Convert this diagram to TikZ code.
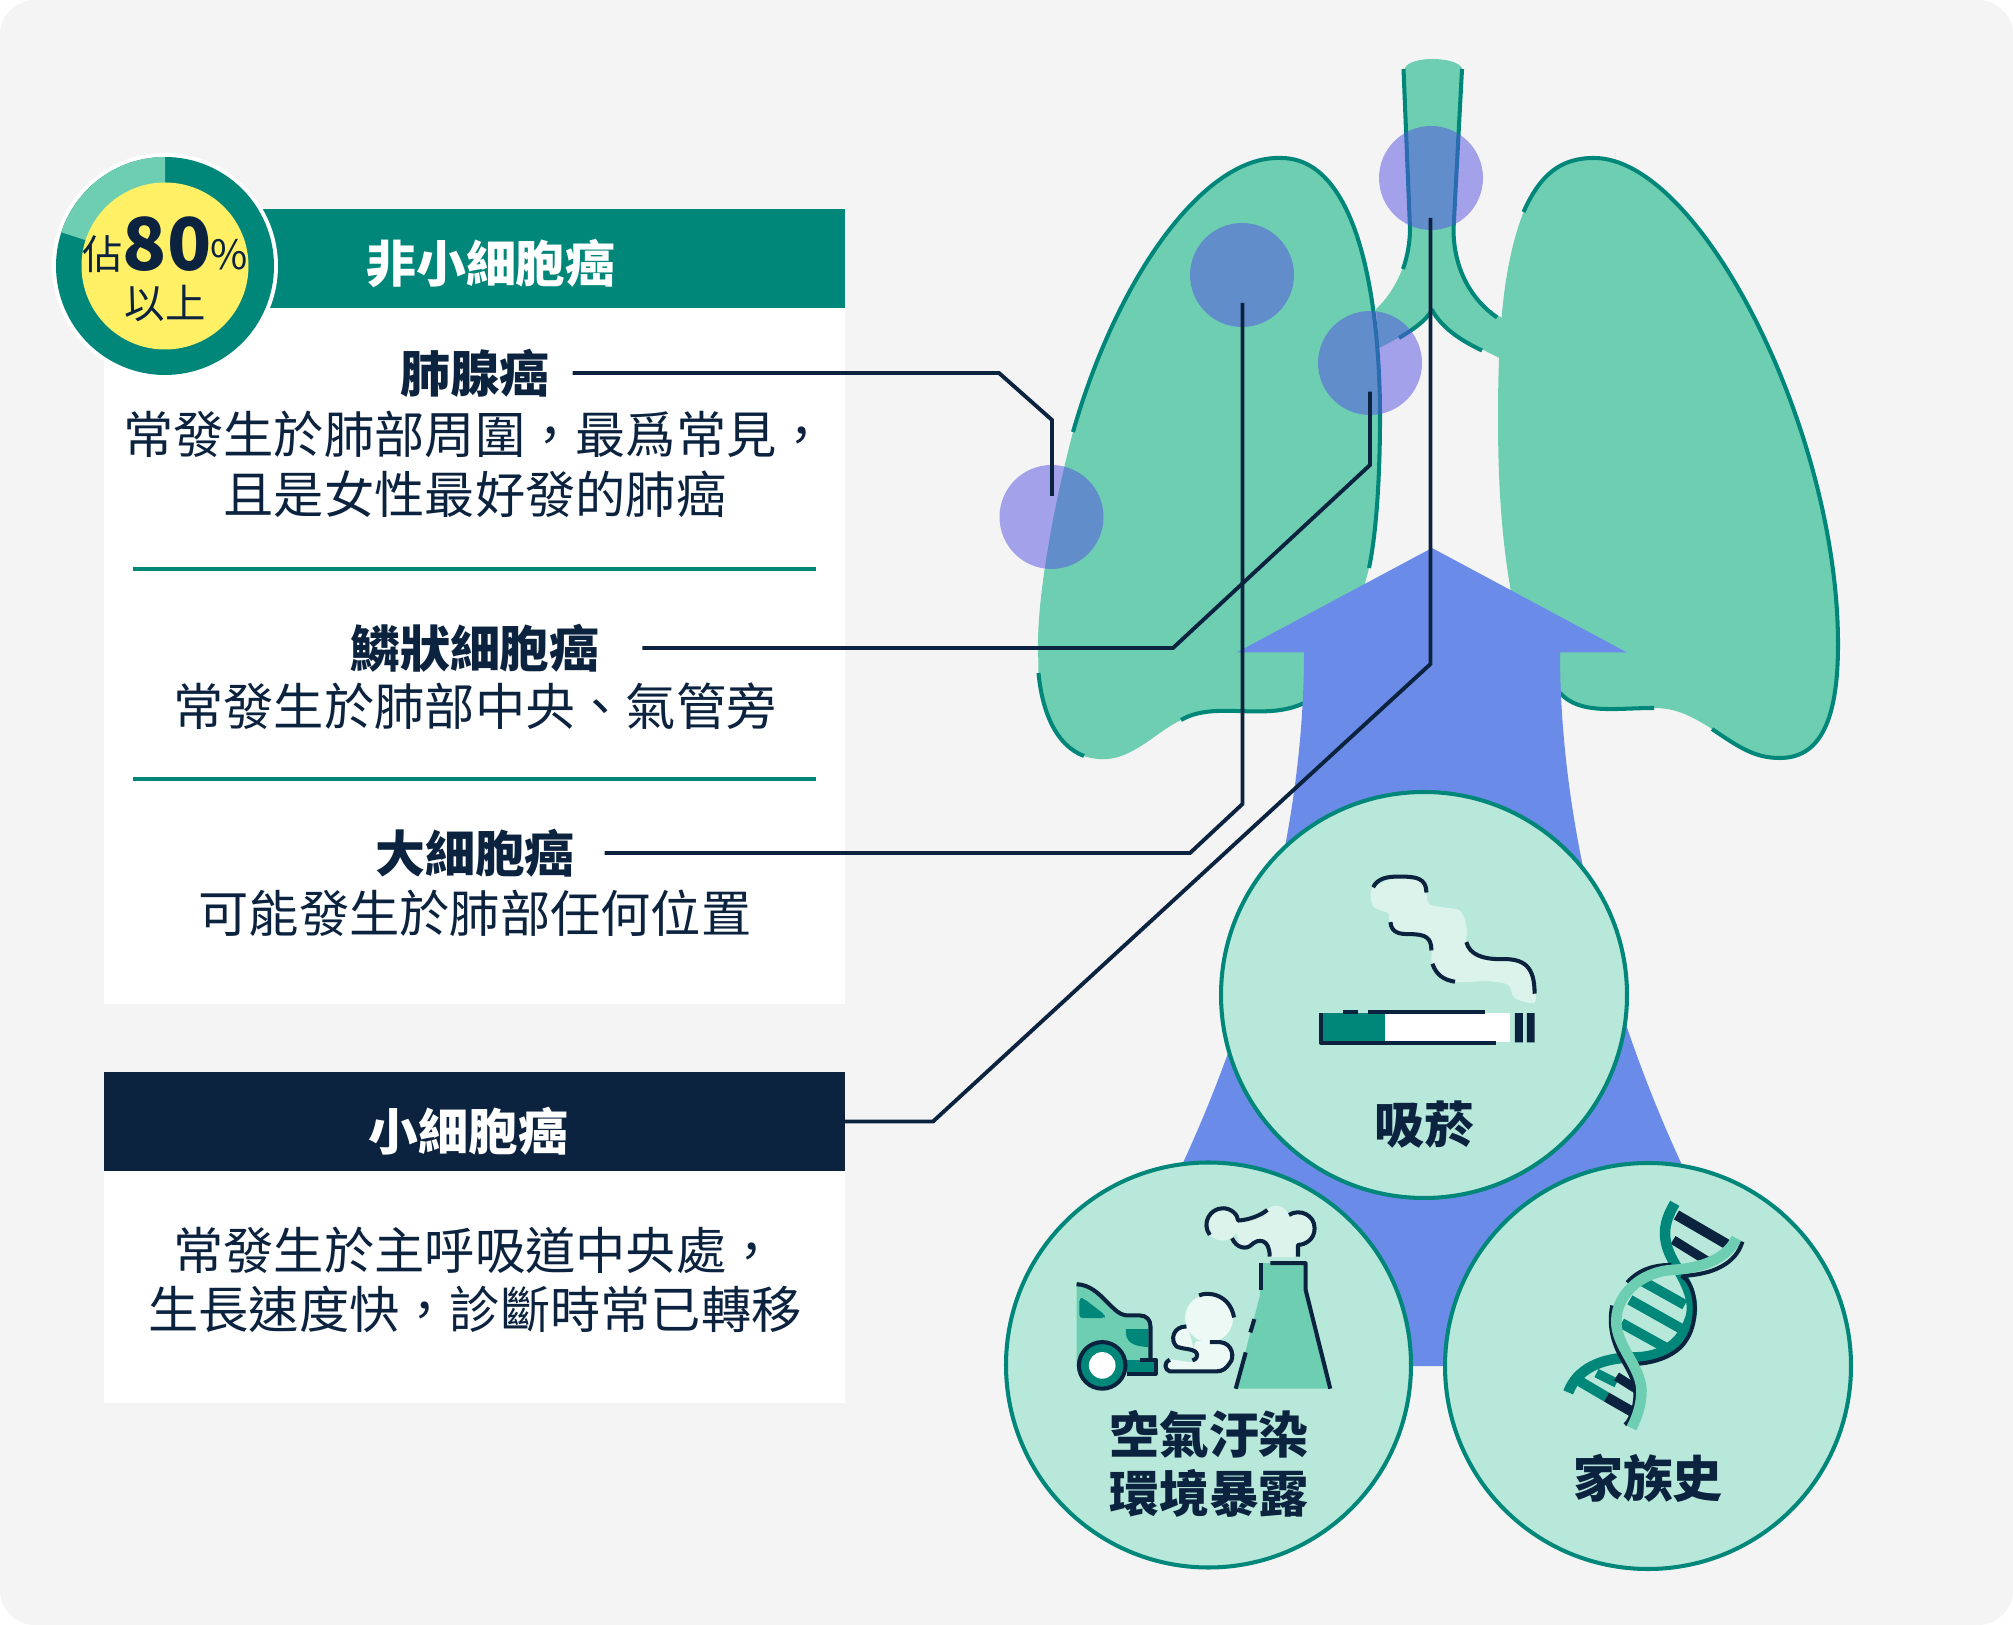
\documentclass[tikz,border=0pt]{standalone}
\usepackage{fontspec}
\usepackage{xcolor}
\usepackage{tikz}
\newfontfamily\tcfont{Noto Sans CJK TC}
\definecolor{bg}{HTML}{F4F4F4}
\definecolor{navy}{HTML}{0C2340}
\definecolor{deep}{HTML}{00877A}
\definecolor{mint}{HTML}{6ECEB2}
\definecolor{pale}{HTML}{B8E8DA}
\definecolor{puff}{HTML}{DCF3EC}
\definecolor{cloud}{HTML}{EDF9F5}
\definecolor{arrowblue}{HTML}{6A8CE8}
\definecolor{spot}{HTML}{5650E4}
\definecolor{sun}{HTML}{FFF066}
\tikzset{
  edge/.style={draw=deep, line width=1.15pt, line cap=butt, line join=round},
  leader/.style={draw=navy, line width=1.1pt, line join=miter},
  ink/.style={draw=navy, line width=1.15pt, line join=round},
  rulebar/.style={draw=deep, line width=1pt},
  riskcirc/.style={draw=deep, fill=pale, line width=1.15pt},
  tumour/.style={fill=spot, fill opacity=0.5},
  bodytxt/.style={text=navy, align=center, inner sep=0pt, font=\tcfont\fontsize{14.3}{16.9}\selectfont},
  headtxt/.style={text=navy, inner sep=0pt, align=center, font=\tcfont\bfseries\fontsize{14.2}{14.2}\selectfont},
  whitetxt/.style={headtxt, text=white},
  bar/.style={minimum height=9.9mm, inner sep=0pt, outer sep=0pt},
  rung/.style={line cap=butt},
}
\begin{document}
\begin{tikzpicture}[x=0.1mm,y=-0.1mm]
  \useasboundingbox (0,0) rectangle (2013,1625);
  \fill[white] (0,0) rectangle (2013,1625);
  \fill[bg,rounded corners=3.5mm] (0,0) rectangle (2013,1625);

  % lungs and windpipe
  \fill[mint] (1073,432) .. controls (1055,500) and (1038,590) .. (1038,644) -- (1038.5,673)
    .. controls (1042,710) and (1055,745) .. (1084,756)
    .. controls (1125,770) and (1150,735) .. (1181,720)
    .. controls (1215,700) and (1265,722) .. (1304,703) -- (1345,660) -- (1369,568)
    .. controls (1377,530) and (1380,470) .. (1380,417)
    .. controls (1380,300) and (1358,158) .. (1281,158)
    .. controls (1205,155) and (1118,275) .. (1073,432) -- cycle;
  \fill[mint] (1523.5,212) .. controls (1540,175) and (1560,158) .. (1594,158)
    .. controls (1700,158) and (1838,430) .. (1838,644)
    .. controls (1838,710) and (1825,758) .. (1780,758)
    .. controls (1755,758) and (1740,748) .. (1712,729)
    .. controls (1690,715) and (1675,708) .. (1654,708)
    .. controls (1615,708) and (1580,715) .. (1560,693) -- (1540,650) -- (1511,592)
    .. controls (1500,530) and (1498,470) .. (1498,417)
    .. controls (1498,320) and (1505,260) .. (1523.5,212) -- cycle;
  \fill[mint] (1405,68) .. controls (1410,56) and (1455,56) .. (1462,68)
    -- (1453.5,229) .. controls (1453.5,270) and (1472,300) .. (1502,318) -- (1499.5,358)
    .. controls (1470,343) and (1447,335) .. (1432,310)
    .. controls (1420,325) and (1400,338) .. (1379,348) -- (1376,309)
    .. controls (1395,292) and (1410,260) .. (1410,229) -- cycle;

  \draw[edge] (1073,432) .. controls (1118,275) and (1205,155) .. (1281,158)
    .. controls (1358,158) and (1380,300) .. (1380,417)
    .. controls (1380,470) and (1377,530) .. (1369,568);
  \draw[edge] (1038.5,673) .. controls (1042,710) and (1055,745) .. (1084,756);
  \draw[edge] (1181,720) .. controls (1215,700) and (1265,722) .. (1304,703);
  \draw[edge] (1523.5,212) .. controls (1540,175) and (1560,158) .. (1594,158)
    .. controls (1700,158) and (1838,430) .. (1838,644)
    .. controls (1838,710) and (1825,758) .. (1780,758)
    .. controls (1755,758) and (1740,748) .. (1712,729);
  \draw[edge] (1654,708) .. controls (1615,708) and (1580,715) .. (1560,693);
  \draw[edge] (1403.5,69) -- (1410,229) .. controls (1410,240) and (1408,255) .. (1403,269);
  \draw[edge] (1462,69) -- (1453.5,229) .. controls (1453.5,270) and (1472,300) .. (1497,317.5);
  \draw[edge] (1399,338) .. controls (1412,330) and (1425,322) .. (1432,310)
    .. controls (1442,328) and (1460,340) .. (1482,350.5);

  % sites in the lung
  \fill[tumour] (1051.5,517) circle (52);
  \fill[tumour] (1242,275) circle (52);
  \fill[tumour] (1370,363) circle (52);
  \fill[tumour] (1431,178) circle (52);

  % the big arrow
  \fill[arrowblue] (1432,548) -- (1627,652.5) -- (1560,652.5)
    .. controls (1560,850) and (1624,1040) .. (1682,1165) -- (1648,1366) -- (1208,1366) -- (1182,1165)
    .. controls (1240,1040) and (1304,850) .. (1304,652.5) -- (1236.5,652.5) -- cycle;

  % panels
  \fill[white] (104,280) rectangle (845,1004);
  \fill[white] (104,1150) rectangle (845,1403);
  \node[bar,fill=deep,minimum width=61.5mm] (nonsmallbar) at (537.5,259) {};
  \node[bar,fill=navy,minimum width=74.1mm] (smallbar) at (474.5,1121.5) {};
  \node[whitetxt] (nonsmalltxt) at (491,264) {非小細胞癌};
  \node[whitetxt] (smalltxt) at (468.5,1131) {小細胞癌};

  % share ring
  \fill[white] (165,266) circle (113);
  \fill[deep] (165,266) circle (109);
  \fill[mint] (165,266) -- ++(-90:109) arc (-90:-162:109) -- cycle;
  \fill[sun] (165,266) circle (83.5);
  \node[text=navy,inner sep=0pt,font=\tcfont\fontsize{11.5}{11.5}\selectfont] (sharea) at (103,254) {佔};
  \node[text=navy,inner sep=0pt,font=\tcfont\bfseries\fontsize{20.7}{20.7}\selectfont] (shareb) at (167,244) {80};
  \node[text=navy,inner sep=0pt,font=\tcfont\fontsize{11.5}{11.5}\selectfont] (sharec) at (229,255) {\%};
  \node[text=navy,inner sep=0pt,font=\tcfont\fontsize{11.5}{11.5}\selectfont] (shared) at (165,304) {以上};

  % texts of the panels
  \node[headtxt] (adeno) at (475,373) {肺腺癌};
  \node[bodytxt] (adenotxt) at (475,464.5) {常發生於肺部周圍，最爲常見，\\且是女性最好發的肺癌};
  \draw[rulebar] (133,569) -- (816,569);
  \node[headtxt] (squam) at (475,648) {鱗狀細胞癌};
  \node[bodytxt] (squamtxt) at (475,706) {常發生於肺部中央、氣管旁};
  \draw[rulebar] (133,779) -- (816,779);
  \node[headtxt] (large) at (475,853) {大細胞癌};
  \node[bodytxt] (largetxt) at (475,913) {可能發生於肺部任何位置};
  \node[bodytxt] (smalldesc) at (475,1280) {常發生於主呼吸道中央處，\\生長速度快，診斷時常已轉移};

  % leaders
  \coordinate (adenoend) at (1052,496);
  \coordinate (squamend) at (1370,391.6);
  \coordinate (largeend) at (1242.5,303);
  \coordinate (smallend) at (1430.5,218);
  \draw[leader] ([xshift=2.2mm]adeno.east) -- (999,373) -- (1052,420) -- (adenoend);
  \draw[leader] ([xshift=4.2mm]squam.east) -- (1173,648) -- (1370,465) -- (squamend);
  \draw[leader] ([xshift=2.9mm]large.east) -- (1190,853) -- (1242.5,804) -- (largeend);
  \draw[leader] (smallbar.east) -- (933,1121.5) -- (1430.5,664) -- (smallend);

  % risk circles
  \draw[riskcirc] (1424,995) circle (203);
  \draw[riskcirc] (1208.5,1365) circle (202.5);
  \draw[riskcirc] (1648,1366) circle (203);
  \node[headtxt] (smoke) at (1424,1125) {吸菸};
  \node[headtxt] (air) at (1209,1464) {空氣汙染\\[2.6pt]環境暴露};
  \node[headtxt] (family) at (1648,1478) {家族史};

  % cigarette
  \begin{scope}[shift={(1200,780)},x=0.0333mm,y=-0.0333mm]
    \fill[puff] plot[smooth cycle,tension=0.45] coordinates {(518,325) (600,290) (675,300) (688,372)
      (780,392) (802,450) (800,490) (850,532) (960,540) (1005,600) (1005,668) (945,655) (925,615)
      (860,604) (765,606) (700,565) (695,510) (680,470) (600,462) (570,425) (565,400) (520,380)};
    \fill[deep] (365,700) rectangle (555,785);
    \fill[white] (555,700) rectangle (930,788);
    \draw[ink] (430,698) -- (475,698) (505,698) -- (855,698);
    \draw[ink] (888,789) -- (363,789) -- (363,700);
    \fill[navy] (946,700) rectangle (970,788) (982,700) rectangle (1005,788);
    \draw[ink] (520,322) .. controls (535,295) and (560,290) .. (600,290) .. controls (650,290) and (680,295) .. (680,338);
    \draw[ink] (572,427) .. controls (575,460) and (600,463) .. (630,463) .. controls (680,463) and (695,475) .. (695,512);
    \draw[ink] (698,552) .. controls (710,585) and (730,600) .. (766,606);
    \draw[ink] (800,487) .. controls (810,525) and (850,538) .. (900,538) .. controls (975,535) and (1005,560) .. (1005,642);
  \end{scope}

  % car and chimney
  \begin{scope}[shift={(1000,1150)},x=0.0333mm,y=-0.0333mm]
    \fill[mint] (230,403) .. controls (270,405) and (295,430) .. (320,455) .. controls (345,480) and (360,497) .. (385,497)
      -- (420,497) .. controls (440,497) and (452,510) .. (452,530) -- (452,640) -- (300,670) -- (230,650) -- cycle;
    \fill[deep,rounded corners=1pt] (238,445) -- (238,505) -- (315,505) -- (315,495) -- (250,445) -- cycle;
    \fill[deep] (378,538) -- (445,538) -- (445,592) .. controls (415,590) and (380,585) .. (378,550) -- cycle;
    \fill[deep] (380,632) rectangle (465,672);
    \draw[ink] (230,403) .. controls (270,405) and (295,430) .. (320,455) .. controls (345,480) and (360,497) .. (385,497)
      -- (420,497) .. controls (440,497) and (452,510) .. (452,530) -- (452,625);
    \draw[ink] (420,630) -- (468,630) -- (468,672) -- (380,672);
    \filldraw[ink,fill=deep] (307,647) circle (70);
    \fill[white] (307,647) circle (40);
    % exhaust
    \fill[cloud] (628,505) circle (72);
    \fill[cloud] plot[smooth cycle,tension=0.45] coordinates {(560,530) (522,560) (540,595) (580,605) (590,575) (660,577)
      (702,610) (665,665) (510,665) (492,648) (515,630) (585,632)};
    \draw[ink] (598,437) .. controls (620,425) and (690,430) .. (703,503);
    \draw[ink] (630,577) -- (660,577) .. controls (700,580) and (705,625) .. (690,640) .. controls (680,655) and (670,665) .. (650,665)
      -- (510,665) .. controls (495,660) and (490,640) .. (510,630);
    \draw[ink] (560,530) .. controls (520,530) and (510,570) .. (530,590) .. controls (550,600) and (590,595) .. (592,615) .. controls (592,625) and (585,632) .. (578,632);
    % plume
    \fill[puff] (668,222) circle (50) (830,205) circle (38) (895,235) circle (50);
    \fill[puff] (700,210) -- (880,190) -- (892,322) -- (810,322) -- (805,275) -- (755,285) -- (720,290) -- cycle;
    \draw[ink] (630,255) .. controls (605,220) and (630,175) .. (670,175) .. controls (695,175) and (715,195) .. (715,212)
      .. controls (750,210) and (785,195) .. (803,180);
    \draw[ink] (868,195) .. controls (900,175) and (945,195) .. (945,235) .. controls (945,270) and (915,285) .. (895,285) -- (895,320);
    \draw[ink] (697,265) .. controls (710,295) and (740,300) .. (755,285) .. controls (775,265) and (810,265) .. (810,320);
    \fill[mint] (785,340) -- (918,340) -- (918,420) -- (992,717) -- (708,717) -- (780,440) -- cycle;
    \draw[ink] (812,340) -- (918,340) -- (918,420) -- (992,717);
    \draw[ink] (783,338) -- (783,422);
    \draw[ink] (764,508) -- (752,548);
    \draw[ink] (738,608) -- (708,717);
  \end{scope}

  % helix
  \begin{scope}[shift={(1500,1170)},x=0.0333mm,y=-0.0333mm]
    \draw[navy,rung,line width=2.9pt] (530,135) -- (685,225);
    \draw[navy,rung,line width=2.6pt] (520,210) -- (625,275);
    \draw[deep,rung,line width=2.9pt] (430,335) -- (555,405);
    \draw[deep,rung,line width=2.9pt] (390,390) -- (550,480);
    \draw[deep,rung,line width=2.9pt] (365,460) -- (500,535);
    \draw[deep,rung,line width=2.6pt] (290,610) -- (350,640);
    \draw[navy,rung,line width=2.6pt] (350,620) -- (405,655);
    \draw[deep,rung,line width=2.9pt] (240,635) -- (320,682);
    \draw[navy,rung,line width=2.9pt] (320,682) -- (395,725);
    \draw[deep,rung,line width=3pt] (525,100) .. controls (490,160) and (480,210) .. (530,290)
      .. controls (560,340) and (590,400) .. (570,450) .. controls (545,520) and (490,565) .. (395,563)
      .. controls (300,565) and (230,600) .. (205,668);
    \draw[navy,line width=1.15pt] (545,318) .. controls (590,340) and (600,450) .. (560,510) .. controls (530,560) and (460,580) .. (410,582);
    \draw[navy,line width=1.15pt] (545,318) .. controls (640,315) and (710,280) .. (728,215);
    \draw[navy,line width=1.15pt] (382,338) .. controls (420,295) and (470,285) .. (515,285);
    \draw[navy,line width=1.15pt] (337,407) .. controls (325,470) and (340,520) .. (365,565) .. controls (390,610) and (420,650) .. (400,720) .. controls (392,745) and (382,762) .. (375,765);
    \draw[mint,rung,line width=3pt] (710,205) .. controls (680,270) and (600,295) .. (520,300)
      .. controls (420,305) and (340,380) .. (350,470) .. controls (360,540) and (420,590) .. (425,660)
      .. controls (425,710) and (410,745) .. (395,775);
  \end{scope}
\end{tikzpicture}
\end{document}
